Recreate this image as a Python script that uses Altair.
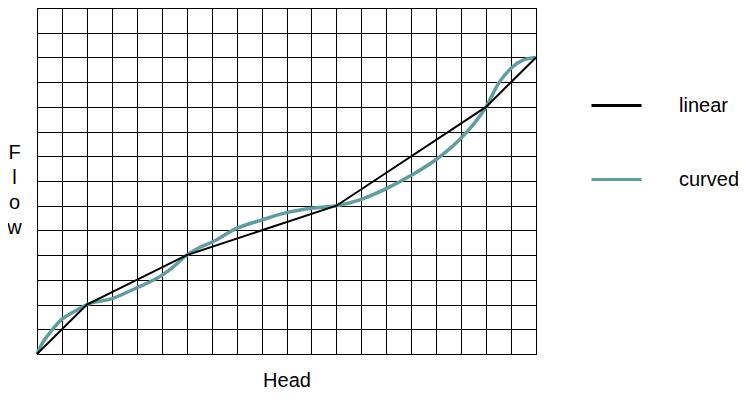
import altair as alt
import pandas as pd

series_names = ["linear", "curved"]
series_colors = ["#000000", "#5f9ea0"]

linear_head = [0, 2, 6, 12, 18, 20]
linear_flow = [0, 2, 4, 6, 10, 12]

curved_head = [0, 0.25, 0.5, 1, 1.5, 2, 3, 4, 5, 5.5, 6, 6.5, 7, 8, 9, 10, 11, 12,
               13, 14, 15, 16, 17, 17.5, 18, 18.5, 19, 19.5, 20]
curved_flow = [0, 0.5, 0.84, 1.41, 1.72, 2, 2.24, 2.68, 3.18, 3.56, 4.0, 4.3, 4.52,
               5.08, 5.42, 5.72, 5.9, 6.0, 6.26, 6.69, 7.23, 7.87, 8.74, 9.3, 10.0,
               10.95, 11.56, 11.9, 12.0]

x_grid = list(range(0, 21))
y_grid = list(range(0, 15))

lin = pd.DataFrame({"head": linear_head, "flow": linear_flow, "series": "linear"})
cur = pd.DataFrame({"head": curved_head, "flow": curved_flow, "series": "curved"})

FONT = "Liberation Sans"

x_enc = alt.X(
    "head:Q",
    scale=alt.Scale(domain=[0, 20], nice=False, zero=False),
    axis=alt.Axis(values=x_grid, labels=False, ticks=False, domain=False, grid=True,
                  gridColor="black", gridOpacity=1, gridWidth=1,
                  title="Head", titleFont=FONT, titleFontSize=20, titleFontWeight="normal",
                  titleColor="black", titleBaseline="top", titlePadding=16),
)
y_enc = alt.Y(
    "flow:Q",
    scale=alt.Scale(domain=[0, 14], nice=False, zero=False),
    axis=alt.Axis(values=y_grid, labels=False, ticks=False, domain=False, grid=True,
                  gridColor="black", gridOpacity=1, gridWidth=1,
                  title=["F", "l", "o", "w"], titleFont=FONT, titleFontSize=20,
                  titleFontWeight="normal", titleColor="black", titleAngle=0,
                  titleAlign="center", titleBaseline="alphabetic",
                  titleX=-23, titleY=150, titleLineHeight=25.3),
)
color_enc = alt.Color(
    "series:N",
    scale=alt.Scale(domain=series_names, range=series_colors),
    legend=alt.Legend(title=None, orient="none", legendX=553, legendY=71,
                      symbolType="stroke", symbolSize=2500, symbolStrokeWidth=3,
                      labelFont=FONT, labelFontSize=20, labelColor="black",
                      labelOffset=36, rowPadding=37, padding=0),
)

linear_layer = alt.Chart(lin).mark_line(strokeWidth=2).encode(
    x=x_enc, y=y_enc, color=color_enc
)
curved_layer = alt.Chart(cur).mark_line(strokeWidth=3.5, interpolate="monotone").encode(
    x=x_enc, y=y_enc, color=color_enc
)

chart = alt.layer(curved_layer, linear_layer).properties(
    width=499, height=346,
    autosize=alt.AutoSizeParams(type="none"),
    padding={"left": 29, "top": 0, "right": 202, "bottom": 38},
    background="white",
).configure_view(stroke="black", strokeWidth=1)

chart.save("out.html", embed_options={"renderer": "svg", "actions": False})
